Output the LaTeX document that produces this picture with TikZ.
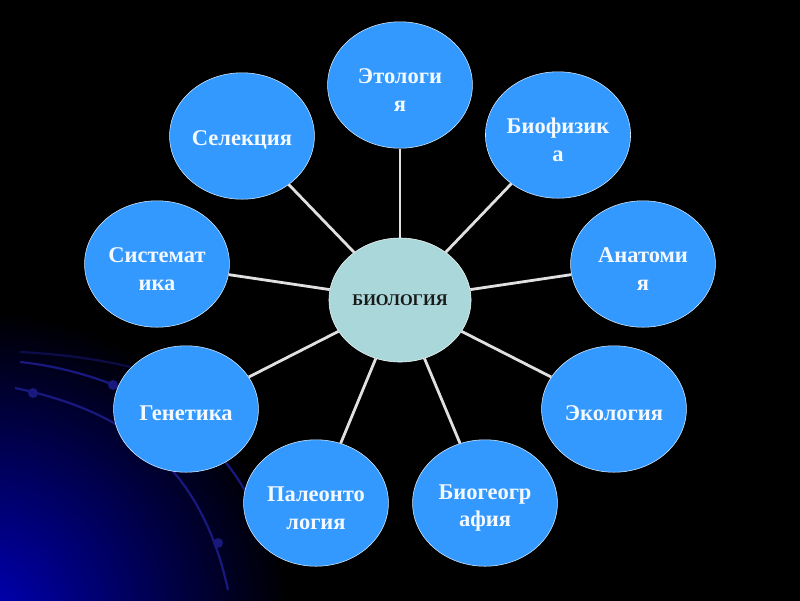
\documentclass[tikz,border=0pt]{standalone}
\usepackage{fontspec}
\setmainfont{Liberation Serif}
\usetikzlibrary{shapes.geometric}
\definecolor{sky}{RGB}{51,153,255}
\definecolor{pale}{RGB}{170,215,217}
\definecolor{streak}{RGB}{24,24,125}
\definecolor{glow}{RGB}{0,0,185}
\tikzset{
	branch/.style={
		ellipse,
		fill=sky,
		draw=white!80!sky, thin,
		minimum width=3.62cm,
		minimum height=3.16cm,
		inner sep=0pt,
		text=white!94!sky,
		text height=16pt,
		font=\fontsize{16}{19.5}\selectfont\bfseries,
		align=center},
	twoline/.style={branch, text height=37.5pt},
	core/.style={
		ellipse,
		fill=pale,
		draw=white!85!pale, thin,
		minimum width=3.55cm,
		minimum height=3.1cm,
		inner sep=0pt,
		text=black!90,
		font=\fontsize{11.6}{13}\selectfont\bfseries},
	spoke/.style={draw=white!88!black, line width=2pt},
	streakline/.style={draw=streak, line width=1.6pt},
	streakdot/.style={fill=streak},
}

\begin{document}
\begin{tikzpicture}[x=0.025cm, y=-0.025cm]
		\useasboundingbox (0,0) rectangle (800,600);
		\fill[black] (-2,-2) rectangle (802,602);
		\begin{scope}
			\clip (-2,-2) rectangle (802,602);
			\shade[inner color=glow, outer color=black] (-20,620) circle (310);
			\draw[streakline, draw opacity=.5] (20,352) .. controls (100,356) and (170,372) .. (215,400);
			\draw[streakline] (20,362) .. controls (80,368) and (200,400) .. (250,500);
			\draw[streakline] (15,388) .. controls (120,410) and (200,460) .. (228,590);
			\fill[streakdot] (33,393) circle (5);
			\fill[streakdot] (113,385) circle (5);
			\fill[streakdot] (218,543) circle (5);
		\end{scope}
		
		\node[core] (bio) at (400,300) {БИОЛОГИЯ};
		
		\node[twoline] (etol)   at (400,85)  {Этологи\\я};
		\node[twoline] (biof)   at (558,135) {Биофизик\\а};
		\node[twoline] (anat)   at (643,264) {Анатоми\\я};
		\node[branch]  (ekol)   at (614,409) {Экология};
		\node[twoline] (biogeo) at (485,503) {Биогеогр\\афия};
		\node[twoline] (paleo)  at (316,503) {Палеонто\\логия};
		\node[branch]  (genet)  at (186,409) {Генетика};
		\node[twoline] (sistem) at (157,264) {Системат\\ика};
		\node[branch]  (selek)  at (242,136) {Селекция};
		
		\foreach \n in {etol,biof,anat,ekol,biogeo,paleo,genet,sistem,selek}
			\draw[spoke] (bio) -- (\n);
		
\end{tikzpicture}
\end{document}
